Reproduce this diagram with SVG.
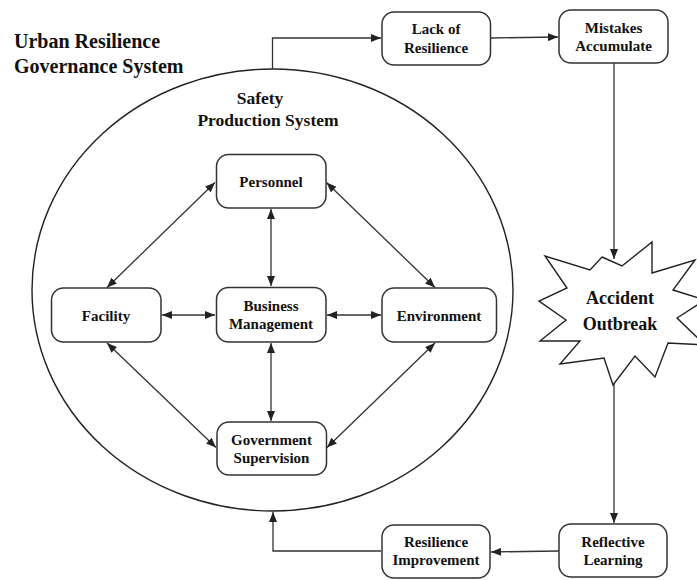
<svg xmlns="http://www.w3.org/2000/svg" width="697" height="580" viewBox="0 0 697 580">
<style>
.box{fill:#fff;stroke:#333;stroke-width:1.5}
.t{font-family:"Liberation Serif","Times New Roman",serif;font-weight:bold;fill:#111;text-anchor:middle;font-size:15px}
.title{font-family:"Liberation Serif","Times New Roman",serif;font-weight:bold;fill:#111;font-size:20px}
.sub{font-family:"Liberation Serif","Times New Roman",serif;font-weight:bold;fill:#111;font-size:17.5px;text-anchor:middle}
.big{font-family:"Liberation Serif","Times New Roman",serif;font-weight:bold;fill:#111;font-size:18px;text-anchor:middle}
.c{fill:none;stroke:#333;stroke-width:1.3}
</style>
<defs>
<marker id="ah" viewBox="0 0 10 8" refX="10" refY="4" markerWidth="10" markerHeight="8" markerUnits="userSpaceOnUse" orient="auto-start-reverse">
<path d="M0,0 L10,4 L0,8 Z" fill="#222"/>
</marker>
</defs>
<rect width="697" height="580" fill="#fff"/>
<g id="title">
<text class="title" x="14" y="48">Urban Resilience</text>
<text class="title" x="14" y="72.5">Governance System</text>
</g>
<g id="safety-system">
<ellipse cx="272.5" cy="290" rx="240.5" ry="221" fill="none" stroke="#222" stroke-width="1.4"/>
<text class="sub" x="260" y="104">Safety</text>
<text class="sub" x="268" y="126">Production System</text>
</g>
<g id="connectors">
<line class="c" x1="271" y1="209" x2="271" y2="286" marker-start="url(#ah)" marker-end="url(#ah)"/>
<line class="c" x1="271" y1="343" x2="271" y2="421" marker-start="url(#ah)" marker-end="url(#ah)"/>
<line class="c" x1="162" y1="315" x2="215" y2="315" marker-start="url(#ah)" marker-end="url(#ah)"/>
<line class="c" x1="327" y1="315" x2="381" y2="315" marker-start="url(#ah)" marker-end="url(#ah)"/>
<line class="c" x1="215" y1="182.5" x2="107" y2="287.5" marker-start="url(#ah)" marker-end="url(#ah)"/>
<line class="c" x1="326.5" y1="182.5" x2="435" y2="287.5" marker-start="url(#ah)" marker-end="url(#ah)"/>
<line class="c" x1="107" y1="343" x2="216" y2="447.5" marker-start="url(#ah)" marker-end="url(#ah)"/>
<line class="c" x1="435" y1="343" x2="327" y2="447.5" marker-start="url(#ah)" marker-end="url(#ah)"/>
<polyline class="c" points="272.5,69 272.5,38 381,38" marker-end="url(#ah)"/>
<line class="c" x1="491" y1="38" x2="558" y2="37" marker-end="url(#ah)"/>
<line class="c" x1="614" y1="63" x2="614" y2="259" marker-end="url(#ah)"/>
<line class="c" x1="614" y1="383" x2="614" y2="523" marker-end="url(#ah)"/>
<line class="c" x1="559" y1="551" x2="491" y2="552" marker-end="url(#ah)"/>
<polyline class="c" points="381,551 273,551 273,512" marker-end="url(#ah)"/>
</g>
<g id="personnel">
<rect class="box" x="216.5" y="154.5" width="109.5" height="53.5" rx="12"/>
<text class="t" x="271" y="187">Personnel</text>
</g>
<g id="business-management">
<rect class="box" x="216.5" y="287.5" width="109.5" height="54.5" rx="12"/>
<text class="t" x="271" y="311">Business</text>
<text class="t" x="271" y="328.5">Management</text>
</g>
<g id="facility">
<rect class="box" x="51.5" y="288" width="109.5" height="54" rx="12"/>
<text class="t" x="106" y="321">Facility</text>
</g>
<g id="environment">
<rect class="box" x="382" y="288" width="114.5" height="54" rx="12"/>
<text class="t" x="439" y="320.5">Environment</text>
</g>
<g id="government-supervision">
<rect class="box" x="217" y="422" width="109.5" height="53" rx="12"/>
<text class="t" x="271.5" y="444.5">Government</text>
<text class="t" x="271.5" y="462.5">Supervision</text>
</g>
<g id="lack-of-resilience">
<rect class="box" x="382" y="12" width="108.5" height="53" rx="12"/>
<text class="t" x="436" y="33.5">Lack of</text>
<text class="t" x="436" y="52.5">Resilience</text>
</g>
<g id="mistakes-accumulate">
<rect class="box" x="559" y="10" width="109" height="53" rx="12"/>
<text class="t" x="613.5" y="33">Mistakes</text>
<text class="t" x="613.5" y="50.5">Accumulate</text>
</g>
<g id="accident-outbreak">
<polygon points="602,257 622,266 652,242 652,273 695,260 673,290 705,300 677,318 705,345 668,343 655,377 635,356 613,385 604,358 560,364 580,341 540,341 566,320 539,301 567,288 545,256 590,270" fill="#fff" stroke="#222" stroke-width="1.4" stroke-linejoin="miter"/>
<text class="big" x="620" y="303.5">Accident</text>
<text class="big" x="620" y="329.5">Outbreak</text>
</g>
<g id="reflective-learning">
<rect class="box" x="559" y="524" width="108" height="53" rx="12"/>
<text class="t" x="613" y="546.5">Reflective</text>
<text class="t" x="613" y="564.5">Learning</text>
</g>
<g id="resilience-improvement">
<rect class="box" x="382" y="525" width="108" height="53" rx="12"/>
<text class="t" x="436" y="547">Resilience</text>
<text class="t" x="436" y="565">Improvement</text>
</g>
</svg>
